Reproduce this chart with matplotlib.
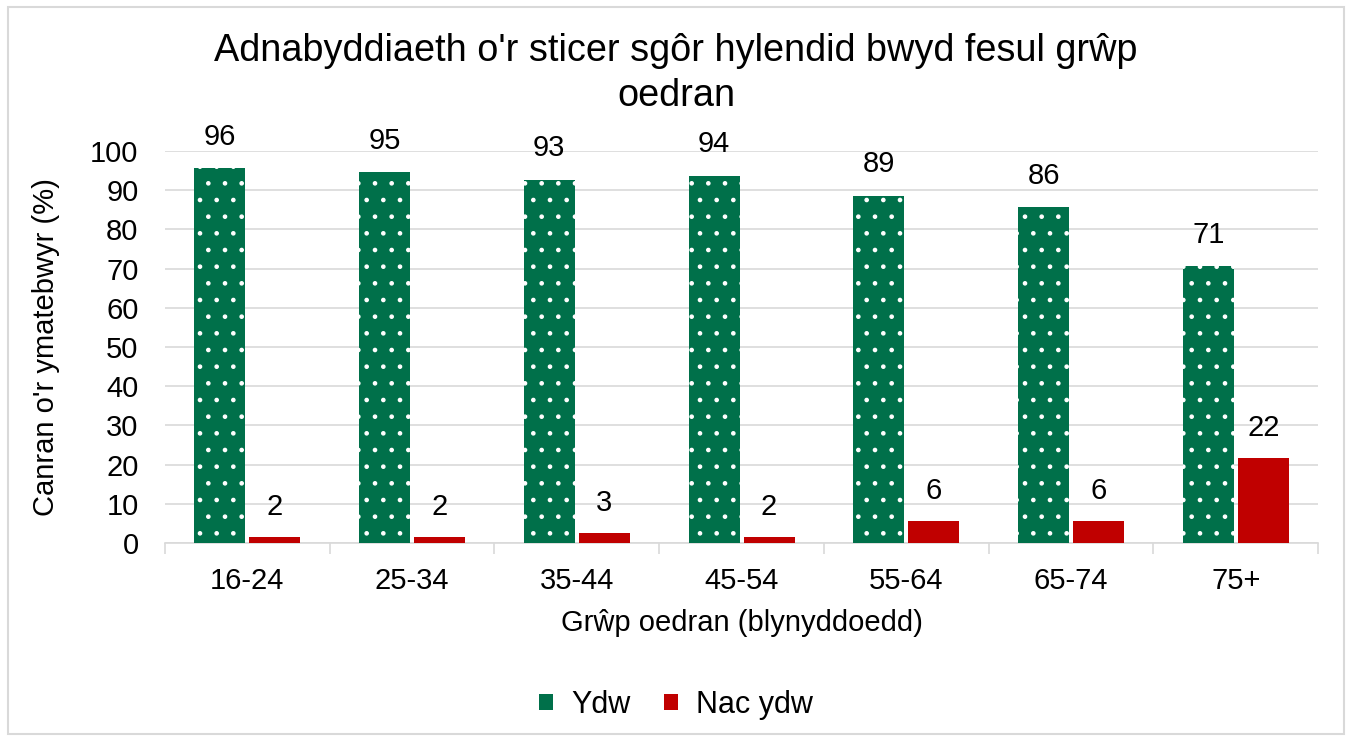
import numpy as np
import matplotlib.pyplot as plt
from matplotlib.patches import Patch, Rectangle

plt.rcParams['font.family'] = ['Liberation Sans', 'DejaVu Sans']
plt.rcParams['hatch.linewidth'] = 0.9

# data
age_groups = ['16-24', '25-34', '35-44', '45-54', '55-64', '65-74', '75+']
ydw = [95.6, 94.6, 92.6, 93.6, 88.6, 85.6, 70.6]
nac_ydw = [1.5, 1.5, 2.5, 1.5, 5.6, 5.6, 21.6]
ydw_labels = [96, 95, 93, 94, 89, 86, 71]
nac_labels = [2, 2, 3, 2, 6, 6, 22]

green = '#00704a'
red = '#c00000'
grid_col = '#d9d9d9'
fs = 21

fig = plt.figure(figsize=(13.52, 7.38), dpi=100)
# rand y siart
fig.patches.append(Rectangle((0.006, 0.006), 0.988, 0.985, transform=fig.transFigure,
                             fill=False, edgecolor='#d9d9d9', linewidth=1.5))

ax = fig.add_axes([0.122, 0.2642, 0.853, 0.5312])
x = np.arange(len(age_groups))
w = 0.31
off = w / 2 + 0.012

ax.bar(x - off, ydw, w, color=green, edgecolor='white', linewidth=0,
       hatch='.', zorder=3)
ax.bar(x + off, nac_ydw, w, color=red, linewidth=0, zorder=3)

for xi, v, lab in zip(x, ydw, ydw_labels):
    ax.text(xi - off, v + 4.5, str(lab), ha='center', va='bottom', fontsize=fs)
for xi, v, lab in zip(x, nac_ydw, nac_labels):
    ax.text(xi + off, v + 4.2, str(lab), ha='center', va='bottom', fontsize=fs)

ax.set_xlim(-0.5, len(age_groups) - 0.5)
ax.set_ylim(0, 100)
ax.set_yticks(range(0, 101, 10))
ax.tick_params(axis='y', length=0, labelsize=fs, pad=19)
ax.set_xticks(x)
ax.set_xticklabels(age_groups, fontsize=fs)
ax.tick_params(axis='x', length=0, pad=17)
ax.set_xticks(np.arange(-0.5, len(age_groups)), minor=True)
ax.tick_params(axis='x', which='minor', length=8, color=grid_col, width=1.2)

ax.grid(axis='y', color=grid_col, linewidth=1.2, zorder=0)
for s in ['top', 'right', 'left']:
    ax.spines[s].set_visible(False)
ax.spines['bottom'].set_color(grid_col)
ax.spines['bottom'].set_linewidth(1.2)

ax.set_ylabel("Canran o'r ymatebwyr (%)", fontsize=fs, labelpad=22)
ax.set_xlabel('Grŵp oedran (blynyddoedd)', fontsize=fs, labelpad=10)

fig.suptitle("Adnabyddiaeth o'r sticer sgôr hylendid bwyd fesul grŵp\noedran",
             fontsize=27.3, y=0.955, linespacing=1.3)

handles = [Patch(facecolor=green, label='Ydw'), Patch(facecolor=red, label='Nac ydw')]
fig.legend(handles=handles, loc='center', bbox_to_anchor=(0.5, 0.045), ncol=2,
           frameon=False, fontsize=22, handlelength=0.45, handleheight=0.45,
           handletextpad=0.6, columnspacing=1.1)

fig.savefig('out.png', dpi=100)
